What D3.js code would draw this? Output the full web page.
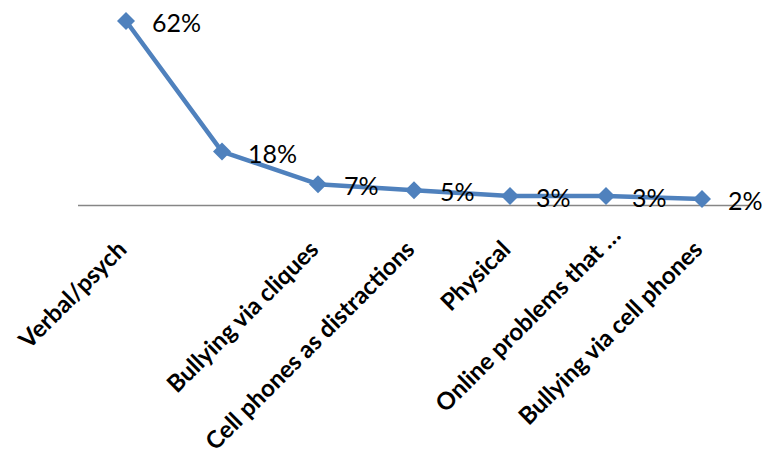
<!DOCTYPE html>
<html>
<head>
<meta charset="utf-8">
<script src="https://cdn.jsdelivr.net/npm/d3@7/dist/d3.min.js"></script>
<style>
  html, body { margin: 0; padding: 0; background: #fff; }
  svg { display: block; }
</style>
</head>
<body>
<svg id="chart" width="762" height="456"></svg>
<script>
// ---- Data ----
const categories = ["Verbal/psych", "", "Bullying via cliques", "Cell phones as distractions", "Physical", "Online problems that \u2026", "Bullying via cell phones"];
const values = [62, 18, 7, 5, 3, 3, 2];
const valueLabels = ["62%", "18%", "7%", "5%", "3%", "3%", "2%"];

// ---- Layout ----
const svg = d3.select("#chart");
const plotLeft = 78, plotRight = 750, axisY = 205;

const x = d3.scaleBand().domain(d3.range(categories.length)).range([plotLeft, plotRight]);
const y = d3.scaleLinear().domain([0, 62]).range([axisY, 21]);
const cx = i => x(i) + x.bandwidth() / 2;

// axis line
svg.append("line")
  .attr("x1", plotLeft).attr("x2", plotRight)
  .attr("y1", axisY + 0.5).attr("y2", axisY + 0.5)
  .attr("stroke", "#868686").attr("stroke-width", 1.5);

// category labels
svg.append("g").selectAll("text")
  .data(categories)
  .join("text")
  .attr("transform", (d, i) => `translate(${cx(i) + 2},${axisY + 46}) rotate(-45)`)
  .attr("dx", d => d.endsWith("\u2026") ? 20 : 0)
  .attr("text-anchor", "end")
  .attr("font-family", "Lato, 'Open Sans', sans-serif")
  .attr("font-weight", "bold")
  .attr("font-size", 24)
  .attr("fill", "#000")
  .text(d => d);

// line
const line = d3.line().x((d, i) => cx(i)).y(d => y(d));
svg.append("path")
  .datum(values)
  .attr("d", line)
  .attr("fill", "none")
  .attr("stroke", "#4F81BD")
  .attr("stroke-width", 4.5)
  .attr("stroke-linejoin", "round");

// markers (diamonds)
const r = 9;
svg.append("g").selectAll("path")
  .data(values)
  .join("path")
  .attr("d", (d, i) => {
    const px = cx(i), py = y(d);
    return `M${px},${py - r}L${px + r},${py}L${px},${py + r}L${px - r},${py}Z`;
  })
  .attr("fill", "#4F81BD");

// data labels
svg.append("g").selectAll("text")
  .data(values)
  .join("text")
  .attr("x", (d, i) => cx(i) + 26)
  .attr("y", d => y(d) + 11)
  .attr("font-family", "Lato, 'Open Sans', sans-serif")
  .attr("font-size", 25)
  .attr("fill", "#000")
  .text((d, i) => valueLabels[i]);
</script>
</body>
</html>
